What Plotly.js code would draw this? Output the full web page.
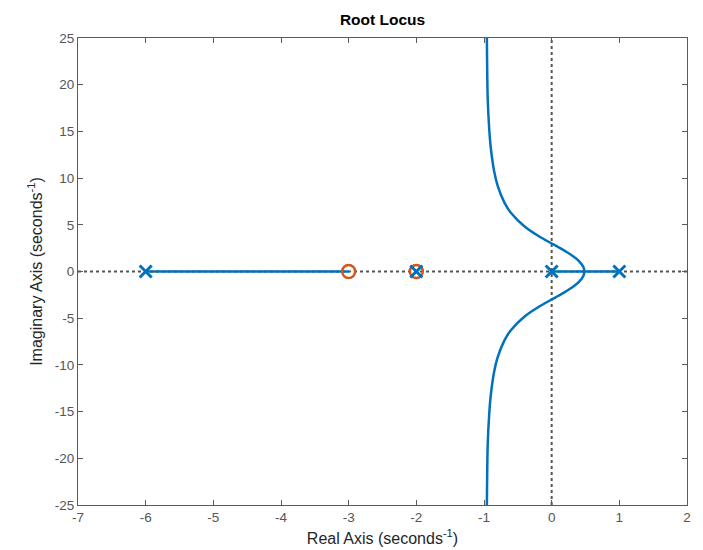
<!DOCTYPE html>
<html><head><meta charset="utf-8">
<script src="https://cdn.plot.ly/plotly-3.0.1.min.js"></script>
<style>html,body{margin:0;padding:0;background:#fff}#chart{width:703px;height:550px}</style>
</head><body><div id="chart"></div>
<script>
// Open-loop poles and zeros
const poleRe = [-6, -2, 0, 1];
const poleIm = [0, 0, 0, 0];
const zeroRe = [-3, -2];
const zeroIm = [0, 0];
// Real-axis branches
const branchARe = [-6, -3];
const branchAIm = [0, 0];
const branchBRe = [0, 0.485];
const branchBIm = [0, 0];
const branchCRe = [1, 0.485];
const branchCIm = [0, 0];
// Complex branches
const upperRe = [0.485, 0.47, 0.4, 0.3, 0.2, 0.1, 0, -0.2, -0.4, -0.6, -0.7, -0.8, -0.85, -0.9, -0.925, -0.945, -0.955, -0.96];
const upperIm = [0, 0.45, 1.14, 1.72, 2.18, 2.6, 3.0, 3.83, 4.82, 6.26, 7.4, 9.23, 10.74, 13.25, 15.5, 18.5, 23, 27];
const lowerRe = [0.485, 0.47, 0.4, 0.3, 0.2, 0.1, 0, -0.2, -0.4, -0.6, -0.7, -0.8, -0.85, -0.9, -0.925, -0.945, -0.955, -0.96];
const lowerIm = [0, -0.45, -1.14, -1.72, -2.18, -2.6, -3.0, -3.83, -4.82, -6.26, -7.4, -9.23, -10.74, -13.25, -15.5, -18.5, -23, -27];

const xTicks = [-7, -6, -5, -4, -3, -2, -1, 0, 1, 2];
const yTicks = [-25, -20, -15, -10, -5, 0, 5, 10, 15, 20, 25];

const blue = '#0072BD', orange = '#D95319';
const FONT = 'Liberation Sans, Arial, sans-serif';
const lineStyle = {color: blue, width: 2.5};
const traces = [
  {x: branchARe, y: branchAIm, mode: 'lines', line: lineStyle},
  {x: branchBRe, y: branchBIm, mode: 'lines', line: lineStyle},
  {x: branchCRe, y: branchCIm, mode: 'lines', line: lineStyle},
  {x: upperRe, y: upperIm, mode: 'lines', line: Object.assign({shape: 'spline'}, lineStyle)},
  {x: lowerRe, y: lowerIm, mode: 'lines', line: Object.assign({shape: 'spline'}, lineStyle)},
  {x: zeroRe, y: zeroIm, mode: 'markers', marker: {symbol: 'circle-open', size: 13, color: orange, line: {width: 2.5, color: orange}}},
  {x: poleRe, y: poleIm, mode: 'markers', marker: {symbol: 'x-thin-open', size: 12, color: blue, line: {width: 3, color: blue}}}
];

const axisCommon = {
  showgrid: false, zeroline: false, showline: true, mirror: 'ticks',
  linecolor: '#5a5a5a', linewidth: 1, ticks: 'inside', ticklen: 5, tickcolor: '#5a5a5a',
  tickfont: {family: FONT, size: 13.5, color: '#555'}
};

const layout = {
  width: 703, height: 550,
  margin: {l: 78, r: 16, t: 38, b: 45},
  paper_bgcolor: '#fff', plot_bgcolor: '#fff',
  showlegend: false,
  title: {text: '<b>Root Locus</b>', x: 0.5, xref: 'paper', xanchor: 'center', y: 0.975, yref: 'container',
          font: {family: FONT, size: 15.5, color: '#000'}},
  xaxis: Object.assign({}, axisCommon, {range: [-7, 2], tickvals: xTicks, ticktext: xTicks.map(String),
    title: {text: 'Real Axis (seconds<sup>-1</sup>)', standoff: 8, font: {family: FONT, size: 16, color: '#262626'}}}),
  yaxis: Object.assign({}, axisCommon, {range: [-25, 25], tickvals: yTicks, ticktext: yTicks.map(String),
    title: {text: 'Imaginary Axis (seconds<sup>-1</sup>)', standoff: 8, font: {family: FONT, size: 16, color: '#262626'}}}),
  shapes: [
    {type: 'line', xref: 'paper', yref: 'y', x0: 0, x1: 1, y0: 0, y1: 0, layer: 'below', line: {color: '#555', width: 2, dash: 'dot'}},
    {type: 'line', xref: 'x', yref: 'paper', x0: 0, x1: 0, y0: 0, y1: 1, layer: 'below', line: {color: '#555', width: 2, dash: 'dot'}}
  ]
};

Plotly.newPlot('chart', traces, layout, {displayModeBar: false, staticPlot: true});
</script>
</body></html>
